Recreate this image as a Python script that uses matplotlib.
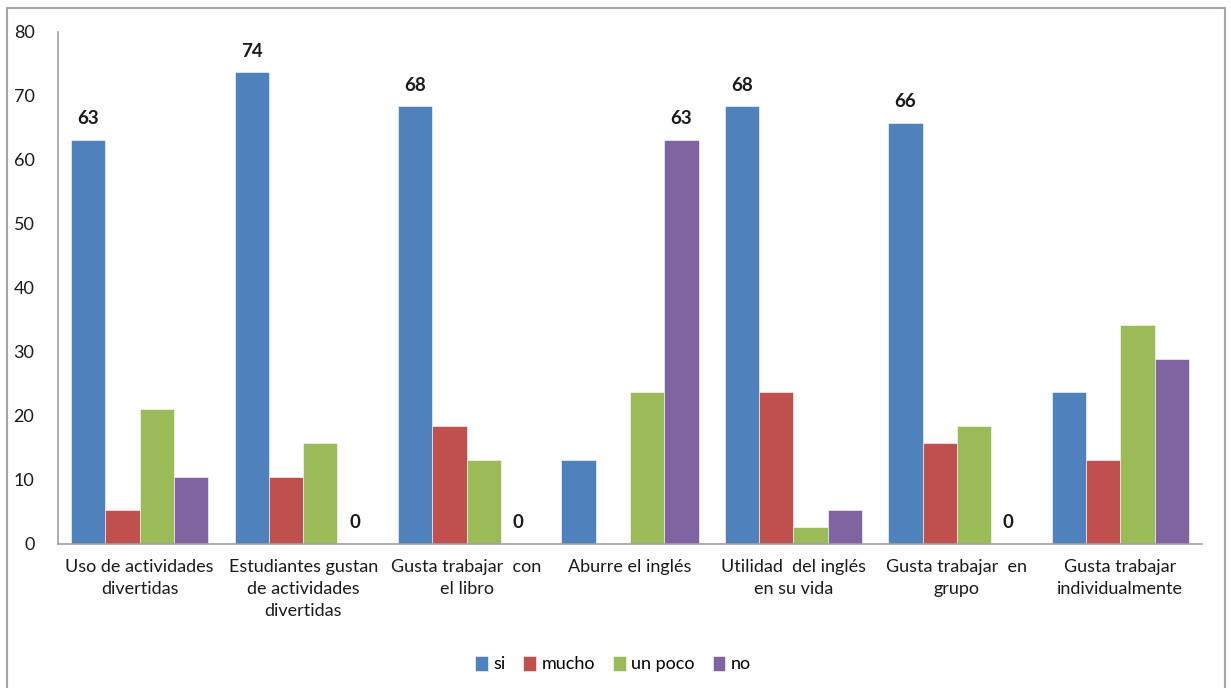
"""
Grouped bar chart: student opinions about English class activities.
"""
import numpy as np
import matplotlib.pyplot as plt
from matplotlib.patches import Rectangle

# Data (percent of 38 students)
categories = [
    "Uso de actividades\ndivertidas",
    "Estudiantes gustan\nde actividades\ndivertidas",
    "Gusta trabajar  con\nel libro",
    "Aburre el inglés",
    "Utilidad  del inglés\nen su vida",
    "Gusta trabajar  en\ngrupo",
    "Gusta trabajar\nindividualmente",
]
series_names = ["si", "mucho", "un poco", "no"]
si = [63.2, 73.7, 68.4, 13.2, 68.4, 65.8, 23.7]
mucho = [5.3, 10.5, 18.4, 0.0, 23.7, 15.8, 13.2]
un_poco = [21.1, 15.8, 13.2, 23.7, 2.6, 18.4, 34.2]
no = [10.5, 0.0, 0.0, 63.2, 5.3, 0.0, 28.9]

# which bars carry a value label (category index)
labelled_si = [0, 1, 2, 4, 5]
labelled_no = [1, 2, 3, 5]

colors = ["#4F81BD", "#C0504D", "#9BBB59", "#8064A2"]
yticks = [0, 10, 20, 30, 40, 50, 60, 70, 80]

plt.rcParams["font.family"] = ["Lato", "DejaVu Sans"]

fig = plt.figure(figsize=(12.31, 6.88), dpi=100)
ax = fig.add_axes([58 / 1231, 1 - 544 / 688, (1202 - 58) / 1231, (544 - 32) / 688])

# outer chart border
fig.patches.append(Rectangle((7 / 1231, -0.01), (1225 - 7) / 1231, 1 - 8 / 688 + 0.01,
                             transform=fig.transFigure, fill=False,
                             edgecolor="#a6a6a6", linewidth=1.5))

x = np.arange(len(categories))
width = 0.21
all_series = [si, mucho, un_poco, no]
for i, (vals, name) in enumerate(zip(all_series, series_names)):
    offset = (i - 1.5) * width
    ax.bar(x + offset, vals, width, color=colors[i], label=name,
           edgecolor="white", linewidth=0.4)

for j in labelled_si:
    ax.annotate(f"{si[j]:.0f}", (x[j] - 1.5 * width, si[j]), xytext=(0, 9),
                textcoords="offset points", ha="center", va="bottom",
                fontsize=13.5, fontweight="bold", color="#1a1a1a")
for j in labelled_no:
    ax.annotate(f"{no[j]:.0f}", (x[j] + 1.5 * width, no[j]), xytext=(0, 9),
                textcoords="offset points", ha="center", va="bottom",
                fontsize=13.5, fontweight="bold", color="#1a1a1a")

ax.set_xlim(-0.5, len(categories) - 0.5)
ax.set_ylim(0, 80)
ax.set_yticks(yticks)
ax.set_xticks(x)
ax.set_xticklabels(categories, fontsize=13, linespacing=1.45)
ax.tick_params(axis="both", length=0, colors="#1a1a1a", labelsize=13)
ax.tick_params(axis="x", pad=11)
ax.tick_params(axis="y", pad=17)

for side in ["top", "right"]:
    ax.spines[side].set_visible(False)
for side in ["left", "bottom"]:
    ax.spines[side].set_color("#a0a0a0")
    ax.spines[side].set_linewidth(1.2)

fig.legend(loc="center", bbox_to_anchor=(613 / 1231, 1 - 664 / 688), ncol=4,
           frameon=False, fontsize=13, handlelength=0.7, handleheight=0.9,
           handletextpad=0.3, columnspacing=1.0)

fig.savefig("out.png", dpi=100)
